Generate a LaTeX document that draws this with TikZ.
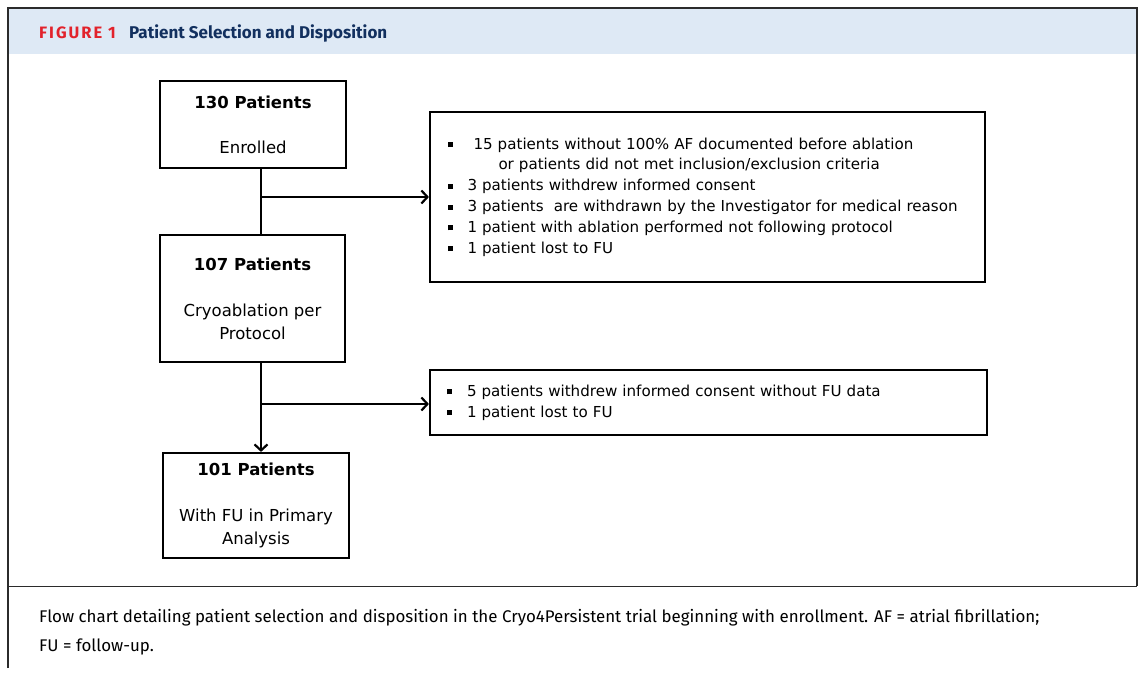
\documentclass[tikz,border=0pt]{standalone}
\usepackage{fontspec}
\setmainfont{DejaVu Sans}
\newfontfamily\capfont{Fira Sans}
\usetikzlibrary{arrows.meta,positioning}
\definecolor{headblue}{HTML}{DEE9F5}
\definecolor{figred}{HTML}{E2222B}
\definecolor{navy}{HTML}{12305F}
\definecolor{framegray}{HTML}{2B2B2B}
\newcommand{\sqb}{\makebox[20pt][l]{\rule[2pt]{5pt}{5pt}}}

\begin{document}
\begin{tikzpicture}[x=1pt,y=-1pt,
  box/.style={draw,line width=2.2pt,inner sep=0pt,align=center,font=\fontsize{16.5}{23}\selectfont},
  listbox/.style={draw,line width=2.2pt,inner sep=0pt,align=left,font=\fontsize{15.1}{20.8}\selectfont},
  flow/.style={line width=2.2pt,-{Straight Barb[length=6pt,width=13pt,line width=2.2pt]}}]
\useasboundingbox (0,0) rectangle (1142,676);
% frame and header band
\fill[headblue] (9,9) rectangle (1136,54);
\draw[framegray,line width=2.2pt] (8,668) -- (8,8) -- (1137,8) -- (1137,586);
\draw[framegray,line width=1pt] (8,586) -- (1137,586);
\node[anchor=base west,inner sep=0pt,text=figred,font=\capfont\bfseries\fontsize{16.5}{18}\selectfont\addfontfeatures{LetterSpace=12}] (figno) at (39,39) {FIGURE 1};
\node[right=13pt of figno.base east,anchor=base west,inner sep=0pt,text=navy,font=\capfont\bfseries\fontsize{17}{18}\selectfont] (figtitle) {Patient Selection and Disposition};

% flow boxes
\node[box,minimum width=186pt,minimum height=87pt] (enr) at (253,124.5) {\textbf{130 Patients}\\[22pt]Enrolled};
\node[box,minimum width=185pt,minimum height=127pt] (cpp) at (252.5,298.5) {\textbf{107 Patients}\\[23pt]Cryoablation per\\Protocol};
\node[box,minimum width=186pt,minimum height=105pt] (fu) at (256,505.5) {\textbf{101 Patients}\\[23pt]With FU in Primary\\Analysis};

\node[listbox,minimum width=555pt,minimum height=170pt,text width=520pt] (excl1) at (707.5,197) {%
\sqb\hspace*{6pt}15 patients without 100\% AF documented before ablation\\
\hspace*{51pt}or patients did not met inclusion/exclusion criteria\\
\sqb 3 patients withdrew informed consent\\
\sqb 3 patients\ \ are withdrawn by the Investigator for medical reason\\
\sqb 1 patient with ablation performed not following protocol\\
\sqb 1 patient lost to FU};
\node[listbox,minimum width=557pt,minimum height=65pt,text width=523pt] (excl2) at (708.5,402.5) {%
\sqb 5 patients withdrew informed consent without FU data\\
\sqb 1 patient lost to FU};

% connectors
\coordinate (j1) at (261,197);
\coordinate (j2) at (261,404);
\draw[line width=2.2pt] (j1 |- enr.south) -- (j1 |- cpp.north);
\draw[flow] (j1) -- (excl1.west |- j1);
\draw[flow] (j2 |- cpp.south) -- (j2 |- fu.north);
\draw[flow] (j2) -- (excl2.west |- j2);

% caption
\node[anchor=base west,inner sep=0pt,font=\capfont\fontsize{16.9}{18}\selectfont] (cap1) at (39,622) {Flow chart detailing patient selection and disposition in the Cryo4Persistent trial beginning with enrollment. AF = atrial fibrillation;};
\node[anchor=base west,inner sep=0pt,font=\capfont\fontsize{16.9}{18}\selectfont] (cap2) at ([yshift=-29pt]cap1.base west) {FU = follow-up.};
\end{tikzpicture}
\end{document}
